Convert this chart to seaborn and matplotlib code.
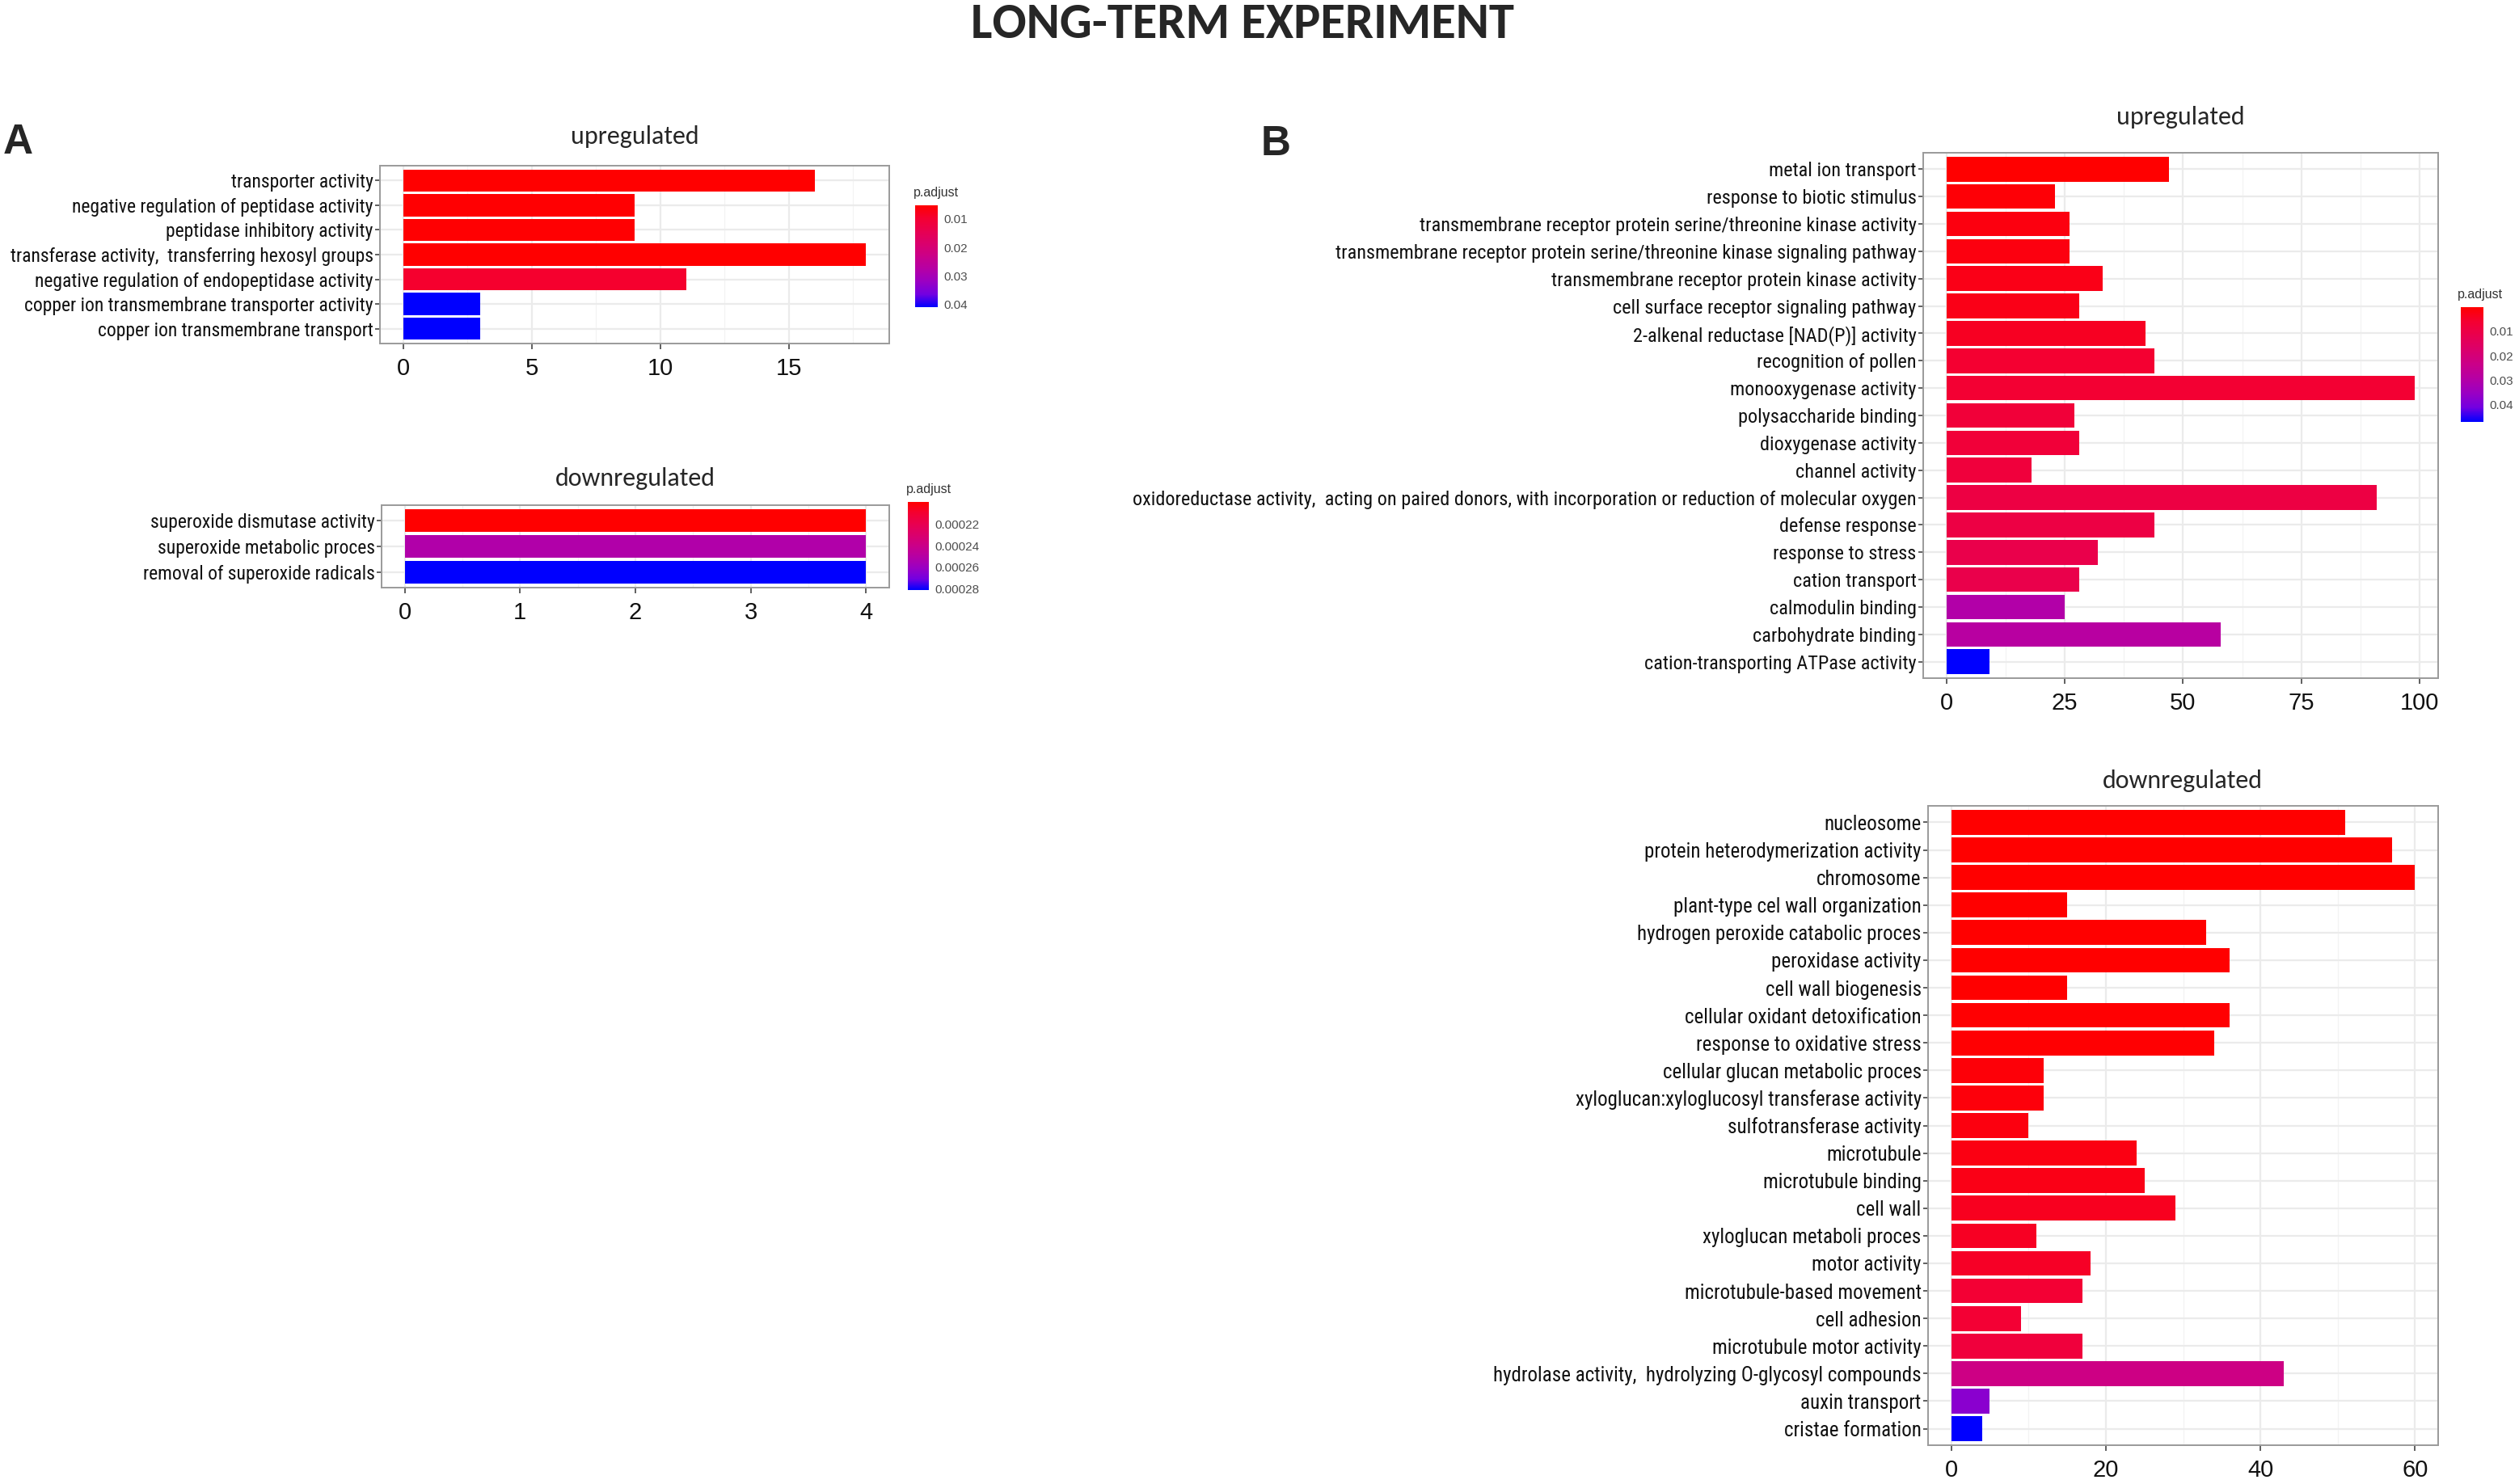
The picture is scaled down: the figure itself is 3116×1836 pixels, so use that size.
import matplotlib
matplotlib.use("Agg")
import pandas as pd
from matplotlib import pyplot as plt
from matplotlib import font_manager
from matplotlib.colors import LinearSegmentedColormap, Normalize
from matplotlib.cm import ScalarMappable
from matplotlib.ticker import AutoMinorLocator
import seaborn as sns

# ---- data: panel A (long-term, upregulated) ----
a_up_terms = [
    "transporter activity",
    "negative regulation of peptidase activity",
    "peptidase inhibitory activity",
    "transferase activity,  transferring hexosyl groups",
    "negative regulation of endopeptidase activity",
    "copper ion transmembrane transporter activity",
    "copper ion transmembrane transport",
]
a_up_counts = [16, 9, 9, 18, 11, 3, 3]
a_up_padj = [0.0052, 0.0054, 0.0054, 0.0053, 0.0095, 0.0409, 0.0409]
a_up_xticks = [0, 5, 10, 15]
a_up_cbar_ticks = [0.01, 0.02, 0.03, 0.04]
a_up_cbar_labels = ["0.01", "0.02", "0.03", "0.04"]

# ---- data: panel A (long-term, downregulated) ----
a_down_terms = [
    "superoxide dismutase activity",
    "superoxide metabolic proces",
    "removal of superoxide radicals",
]
a_down_counts = [4, 4, 4]
a_down_padj = [0.0001993, 0.000252, 0.0002813]
a_down_xticks = [0, 1, 2, 3, 4]
a_down_cbar_ticks = [0.00022, 0.00024, 0.00026, 0.00028]
a_down_cbar_labels = ["0.00022", "0.00024", "0.00026", "0.00028"]

# ---- data: panel B (upregulated) ----
b_up_terms = [
    "metal ion transport",
    "response to biotic stimulus",
    "transmembrane receptor protein serine/threonine kinase activity",
    "transmembrane receptor protein serine/threonine kinase signaling pathway",
    "transmembrane receptor protein kinase activity",
    "cell surface receptor signaling pathway",
    "2-alkenal reductase [NAD(P)] activity",
    "recognition of pollen",
    "monooxygenase activity",
    "polysaccharide binding",
    "dioxygenase activity",
    "channel activity",
    "oxidoreductase activity,  acting on paired donors, with incorporation or reduction of molecular oxygen",
    "defense response",
    "response to stress",
    "cation transport",
    "calmodulin binding",
    "carbohydrate binding",
    "cation-transporting ATPase activity",
]
b_up_counts = [47, 23, 26, 26, 33, 28, 42, 44, 99, 27, 28, 18, 91, 44, 32, 28, 25, 58, 9]
b_up_padj = [0.0001, 0.0010, 0.0020, 0.0020, 0.0030, 0.0030, 0.0042, 0.0060, 0.0065,
             0.0075, 0.0075, 0.0080, 0.0094, 0.0095, 0.0110, 0.0110, 0.0300, 0.0285, 0.0470]
b_up_xticks = [0, 25, 50, 75, 100]
b_up_cbar_ticks = [0.01, 0.02, 0.03, 0.04]
b_up_cbar_labels = ["0.01", "0.02", "0.03", "0.04"]

# ---- data: panel B (downregulated) ----
b_down_terms = [
    "nucleosome",
    "protein heterodymerization activity",
    "chromosome",
    "plant-type cel wall organization",
    "hydrogen peroxide catabolic proces",
    "peroxidase activity",
    "cell wall biogenesis",
    "cellular oxidant detoxification",
    "response to oxidative stress",
    "cellular glucan metabolic proces",
    "xyloglucan:xyloglucosyl transferase activity",
    "sulfotransferase activity",
    "microtubule",
    "microtubule binding",
    "cell wall",
    "xyloglucan metaboli proces",
    "motor activity",
    "microtubule-based movement",
    "cell adhesion",
    "microtubule motor activity",
    "hydrolase activity,  hydrolyzing O-glycosyl compounds",
    "auxin transport",
    "cristae formation",
]
b_down_counts = [51, 57, 60, 15, 33, 36, 15, 36, 34, 12, 12, 10, 24, 25, 29, 11, 18, 17, 9, 17, 43, 5, 4]
b_down_padj = [0.0000, 0.0000, 0.0000, 0.0000, 0.0001, 0.0001, 0.0001, 0.0002, 0.0002, 0.0008,
               0.0012, 0.0016, 0.0020, 0.0022, 0.0032, 0.0036, 0.0040, 0.0056, 0.0056, 0.0068,
               0.0192, 0.0320, 0.0400]
b_down_xticks = [0, 20, 40, 60]

W, H = 3116, 1836

sns.set_theme(style="white")
installed = {f.name for f in font_manager.fontManager.ttflist}


def pick_font(candidates, default):
    for name in candidates:
        if name in installed:
            return name
    return default


# ggplot output here is squeezed horizontally, so use a narrow sans for labels
LABEL_FONT = pick_font(["Liberation Sans Narrow", "Arimo Narrow", "Roboto Condensed",
                        "Archivo Narrow", "PT Sans Narrow", "Fira Sans Condensed"],
                       "Liberation Sans")
TITLE_FONT = pick_font(["Carlito", "Lato", "Open Sans"], "DejaVu Sans")
plt.rcParams["font.family"] = ["Liberation Sans", "DejaVu Sans"]

# ggplot-like red -> blue gradient (Lab interpolation, sampled)
GO_CMAP = LinearSegmentedColormap.from_list(
    "padj", ["#FF0000", "#F40031", "#E80050", "#DA006C", "#CA0089",
             "#B500A5", "#9A00C3", "#7300E1", "#0000FF"])


def rect(left, top, width, height):
    """Pixel box (from top-left) -> figure fraction rect."""
    return [left / W, 1 - (top + height) / H, width / W, height / H]


def fig_text(fig, x, y, s, **kw):
    fig.text(x / W, 1 - y / H, s, **kw)


def draw_panel(fig, box, terms, counts, padj, xticks, label_size=17.5):
    """Horizontal GO enrichment barplot in ggplot style."""
    ax = fig.add_axes(rect(*box))
    norm = Normalize(min(padj), max(padj))
    palette = {t: GO_CMAP(norm(p)) for t, p in zip(terms, padj)}
    df = pd.DataFrame({"Description": terms, "Count": counts})
    sns.barplot(data=df, x="Count", y="Description", hue="Description",
                palette=palette, legend=False, width=0.9, saturation=1,
                errorbar=None, linewidth=0, ax=ax)

    n = len(terms)
    top = max(counts)
    ax.set_xlim(-0.05 * top, 1.05 * top)
    ax.set_ylim(n - 0.4, -0.6)
    ax.set_xticks(xticks)
    ax.xaxis.set_minor_locator(AutoMinorLocator(2))
    ax.set_xlabel("")
    ax.set_ylabel("")

    ax.set_axisbelow(True)
    ax.grid(True, which="major", color="#EBEBEB", lw=1.6)
    ax.grid(True, which="minor", axis="x", color="#F3F3F3", lw=0.9)
    for sp in ax.spines.values():
        sp.set_visible(True)
        sp.set_color("#9A9A9A")
        sp.set_linewidth(1.4)

    ax.tick_params(axis="y", which="major", left=True, length=4, width=1.2,
                   color="#444444", pad=2, labelcolor="#111111")
    ax.tick_params(axis="x", which="major", bottom=True, length=5, width=1.2,
                   color="#444444", pad=7, labelsize=21, labelcolor="#111111")
    ax.tick_params(axis="x", which="minor", bottom=False)
    plt.setp(ax.get_yticklabels(), family=LABEL_FONT, size=label_size)
    return ax, norm


def draw_colorbar(fig, box, norm, ticks, labels, title_xy):
    cax = fig.add_axes(rect(*box))
    cb = fig.colorbar(ScalarMappable(norm=norm, cmap=GO_CMAP), cax=cax)
    cb.outline.set_visible(False)
    cax.invert_yaxis()
    cb.set_ticks(ticks)
    cb.set_ticklabels(labels)
    cax.tick_params(which="major", direction="in", length=6, width=1.2,
                    color="white", left=True, right=True, labelsize=11,
                    labelcolor="#4D4D4D", pad=5)
    cax.minorticks_off()
    fig_text(fig, title_xy[0], title_xy[1], "p.adjust", fontsize=11.5,
             color="#333333", ha="left", va="center")


def main():
    fig = plt.figure(figsize=(W / 100, H / 100), dpi=100)
    fig.patch.set_facecolor("white")

    fig_text(fig, 1537, 30, "LONG-TERM EXPERIMENT", family=TITLE_FONT,
             weight="bold", fontsize=45, ha="center", va="center")
    fig_text(fig, 22, 177, "A", weight="bold", fontsize=37, ha="center", va="center")
    fig_text(fig, 1578, 178, "B", weight="bold", fontsize=37, ha="center", va="center")

    # Panel A
    _, n_aup = draw_panel(fig, (470, 205, 630, 220), a_up_terms, a_up_counts,
                          a_up_padj, a_up_xticks, label_size=17)
    fig_text(fig, 785, 169, "upregulated", family=TITLE_FONT, fontsize=23,
             ha="center", va="center")
    draw_colorbar(fig, (1132, 254, 28, 126), n_aup, a_up_cbar_ticks,
                  a_up_cbar_labels, (1130, 238))

    _, n_adown = draw_panel(fig, (472, 625, 628, 102), a_down_terms, a_down_counts,
                            a_down_padj, a_down_xticks, label_size=17)
    fig_text(fig, 786, 592, "downregulated", family=TITLE_FONT, fontsize=23,
             ha="center", va="center")
    draw_colorbar(fig, (1123, 621, 26, 109), n_adown, a_down_cbar_ticks,
                  a_down_cbar_labels, (1121, 606))

    # Panel B
    _, n_bup = draw_panel(fig, (2379, 189, 637, 650), b_up_terms, b_up_counts,
                          b_up_padj, b_up_xticks)
    fig_text(fig, 2697, 145, "upregulated", family=TITLE_FONT, fontsize=23,
             ha="center", va="center")
    draw_colorbar(fig, (3044, 380, 28, 142), n_bup, b_up_cbar_ticks,
                  b_up_cbar_labels, (3040, 365))

    draw_panel(fig, (2385, 997, 631, 791), b_down_terms, b_down_counts,
               b_down_padj, b_down_xticks, label_size=18)
    fig_text(fig, 2700, 966, "downregulated", family=TITLE_FONT, fontsize=23,
             ha="center", va="center")

    fig.savefig("out.png", dpi=100)


if __name__ == "__main__":
    main()
